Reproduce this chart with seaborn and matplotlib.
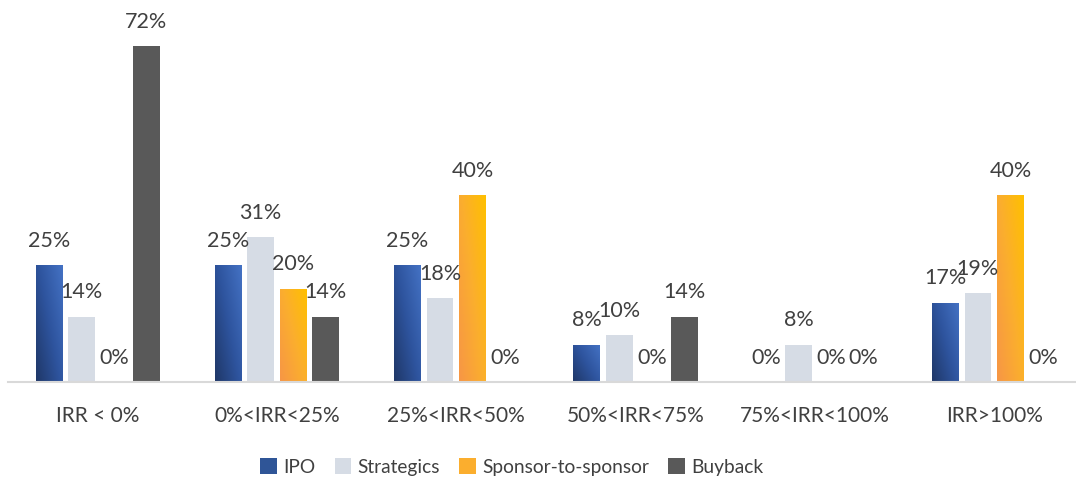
import numpy as np
import pandas as pd
import matplotlib
matplotlib.use("Agg")
import matplotlib.pyplot as plt
import seaborn as sns
from matplotlib.colors import LinearSegmentedColormap
from matplotlib.patches import Patch

categories = ["IRR < 0%", "0%<IRR<25%", "25%<IRR<50%", "50%<IRR<75%", "75%<IRR<100%", "IRR>100%"]
series = ["IPO", "Strategics", "Sponsor-to-sponsor", "Buyback"]
ipo = [25, 25, 25, 8, 0, 17]
strategics = [14, 31, 18, 10, 8, 19]
sponsor = [0, 20, 40, 0, 0, 40]
buyback = [72, 14, 0, 14, 0, 0]

values = {"IPO": ipo, "Strategics": strategics, "Sponsor-to-sponsor": sponsor, "Buyback": buyback}
rows = []
for s in series:
    for c, v in zip(categories, values[s]):
        rows.append({"category": c, "series": s, "value": v})
df = pd.DataFrame(rows)

sns.set_theme(style="white")
plt.rcParams["font.family"] = ["Lato", "DejaVu Sans"]

text_color = "#404040"
palette = {"IPO": "#2F5597", "Strategics": "#D6DCE5",
           "Sponsor-to-sponsor": "#FBAE2E", "Buyback": "#595959"}
gradients = {
    "IPO": LinearSegmentedColormap.from_list("ipo", ["#1F3767", "#2E549E", "#4472C4"]),
    "Sponsor-to-sponsor": LinearSegmentedColormap.from_list("sp", ["#F79646", "#FBAE2E", "#FFC000"]),
}

fig = plt.figure(figsize=(10.76, 4.79), dpi=100)
ax = fig.add_axes([8 / 1076, (479 - 382) / 479, (1076 - 8) / 1076, 382 / 479])

sns.barplot(data=df, x="category", y="value", hue="series", hue_order=series,
            order=categories, palette=palette, width=0.725, gap=0.18,
            saturation=1, legend=False, ax=ax, edgecolor="none", linewidth=0)

xlim = (-0.5, -0.5 + (1076 - 8) / 179.3)
ylim = (0, 382 / (336 / 72))

# gradients
gx, gy = np.meshgrid(np.linspace(0, 1, 64), np.linspace(0, 1, 256))
grad = (gx * 0.55 + gy * 0.45)
for i, s in enumerate(series):
    cont = ax.containers[i]
    for bar in cont:
        h = bar.get_height()
        if s in gradients and h > 0:
            x0 = bar.get_x()
            w = bar.get_width()
            im = ax.imshow(grad, cmap=gradients[s], origin="lower", aspect="auto",
                           extent=[x0, x0 + w, 0, h], zorder=bar.get_zorder(),
                           interpolation="bilinear")
            im.set_clip_path(bar)
            bar.set_facecolor("none")
        ax.annotate(f"{int(h)}%", (bar.get_x() + bar.get_width() / 2, h),
                    xytext=(0, 17.5), textcoords="offset points",
                    ha="center", va="center", fontsize=15.5, color=text_color)

ax.set_xlim(*xlim)
ax.set_ylim(*ylim)

for sp in ["top", "right", "left"]:
    ax.spines[sp].set_visible(False)
ax.spines["bottom"].set_color("#D9D9D9")
ax.spines["bottom"].set_linewidth(1.5)
ax.set_yticks([])
ax.set_xlabel("")
ax.set_ylabel("")
ax.tick_params(axis="x", length=0, pad=17, labelsize=15, labelcolor=text_color)

handles = [Patch(facecolor=palette[s], edgecolor="none") for s in series]
fig.legend(handles, series, loc="center", bbox_to_anchor=(512 / 1076, 1 - 467 / 479),
           ncol=4, frameon=False, fontsize=13.8, labelcolor=text_color,
           handlelength=0.85, handleheight=0.85, handletextpad=0.35, columnspacing=1.0)

fig.savefig("out.png", dpi=100)
